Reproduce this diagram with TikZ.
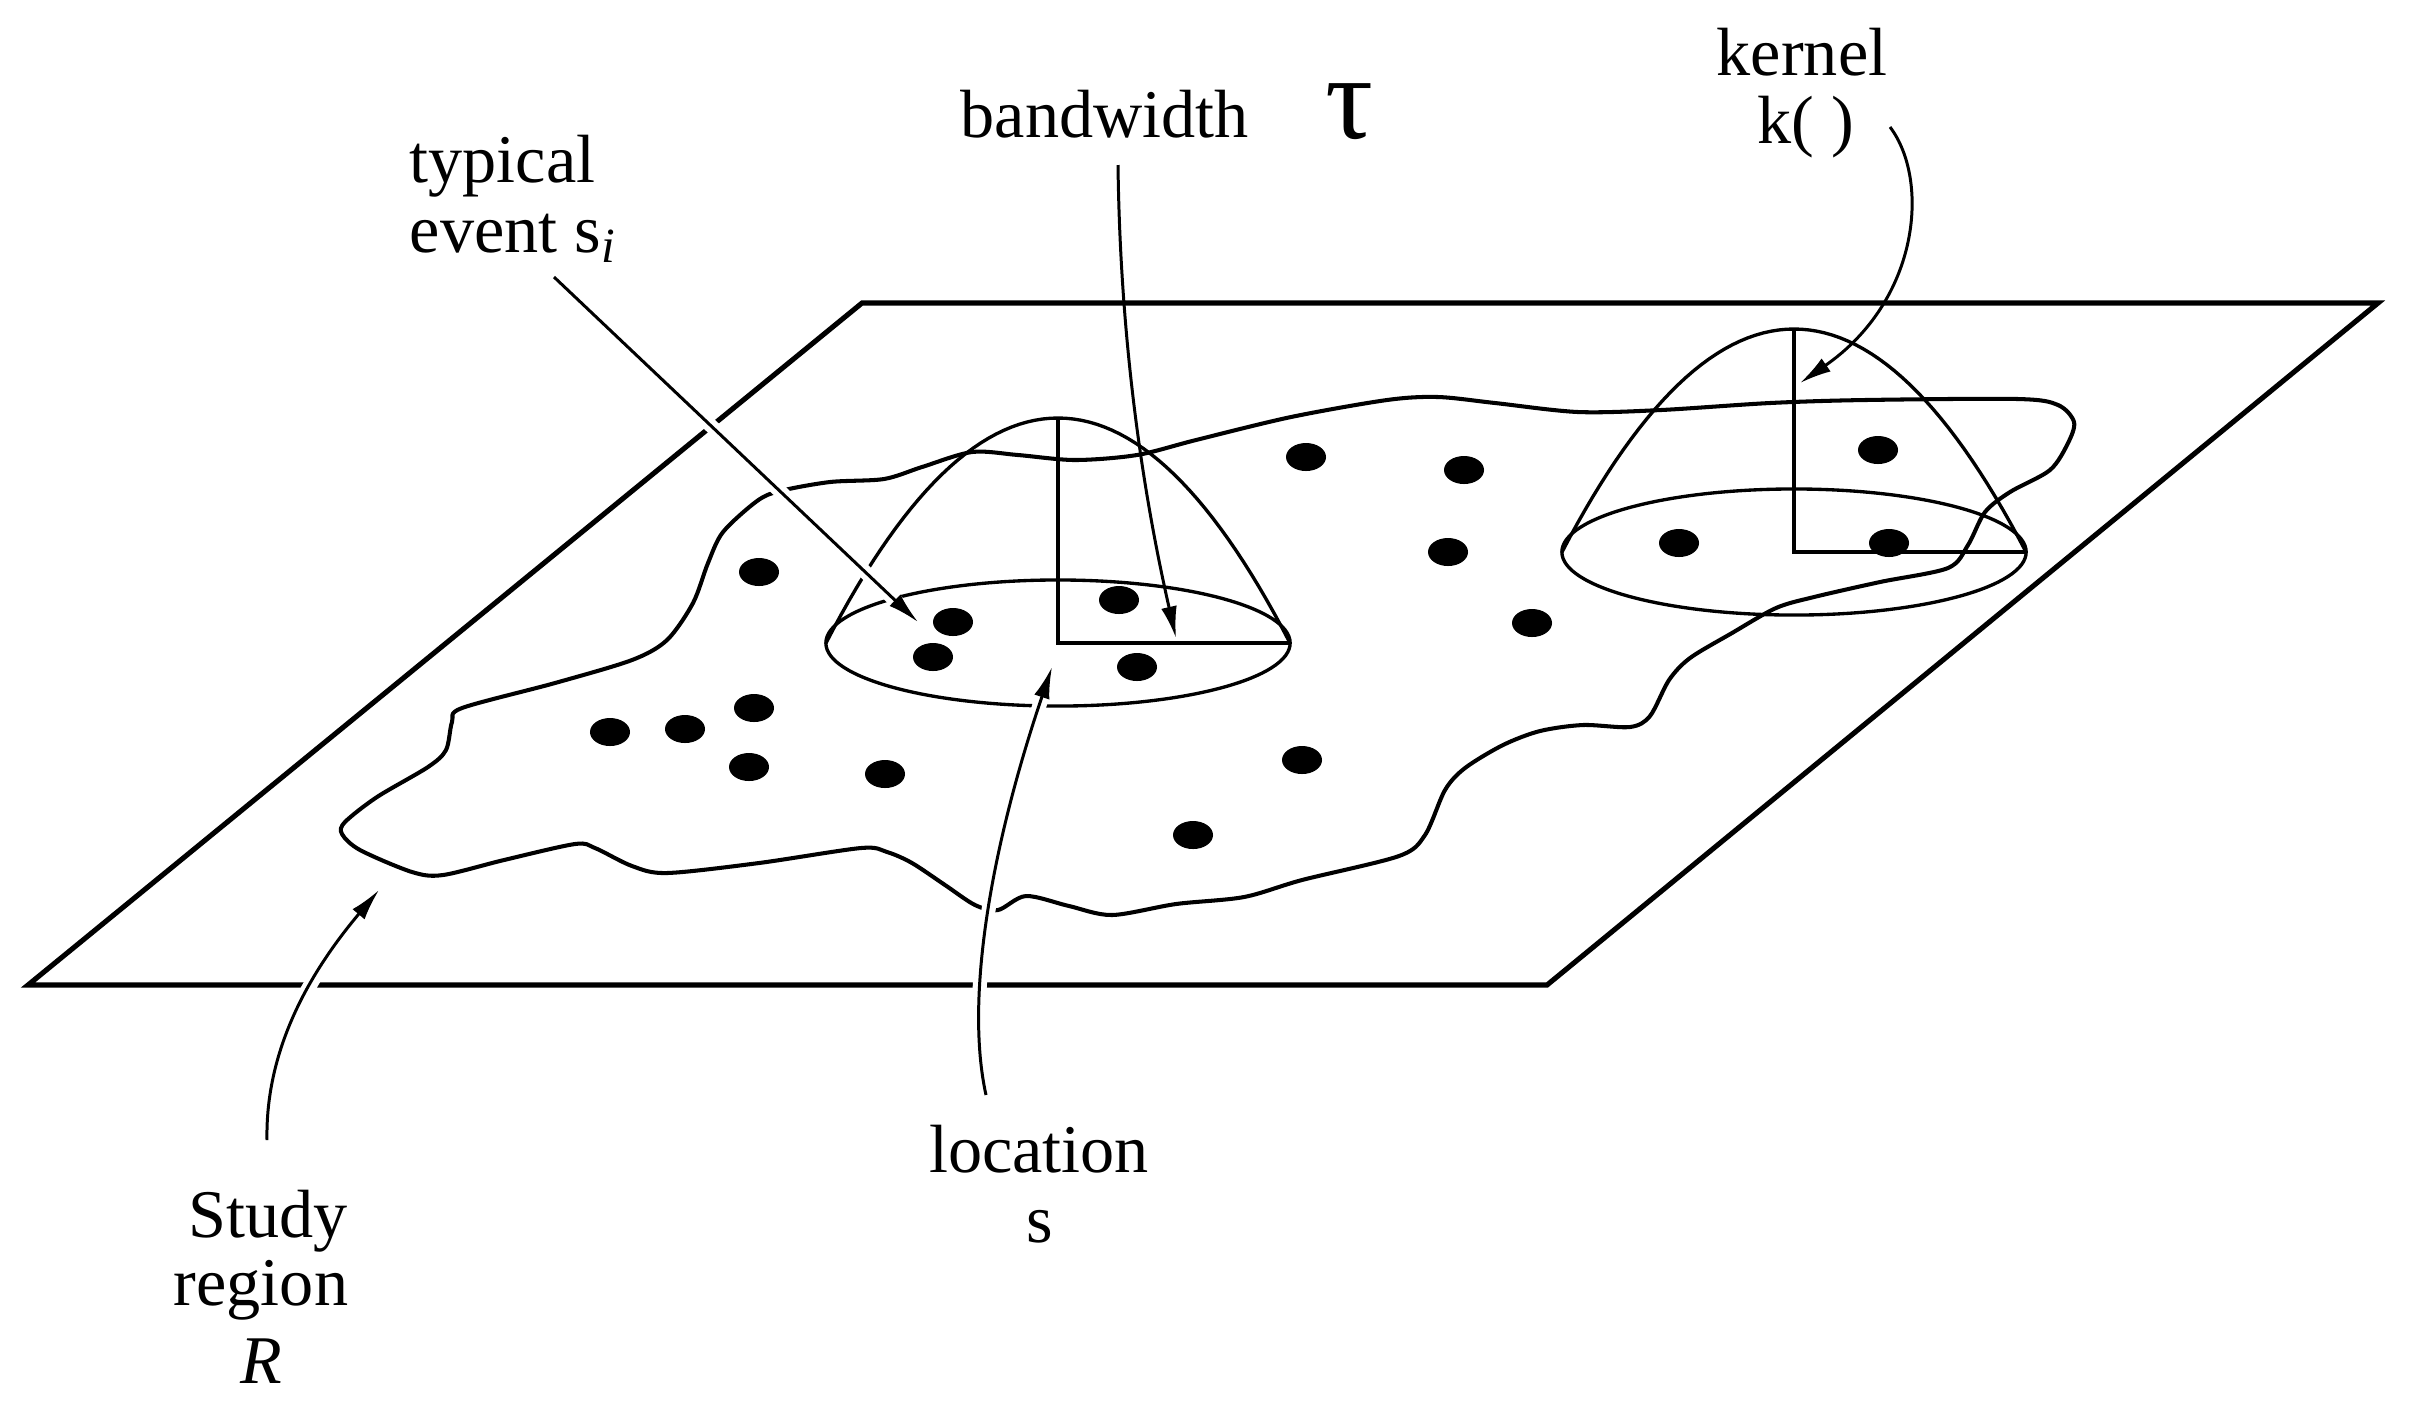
\documentclass[tikz,border=0pt]{standalone}
\usepackage{fontspec}
\setmainfont{Liberation Serif}
\usetikzlibrary{arrows.meta}
\begin{document}
\begin{tikzpicture}[x=0.01cm, y=-0.01cm,
  plane/.style={line width=1.45pt, line join=miter},
  outline/.style={line width=1.15pt, line join=round},
  conel/.style={line width=0.95pt},
  axisl/.style={line width=1.05pt},
  arr/.style={line width=0.85pt, -{Latex[length=9pt,width=4.5pt]}},
  cased/.style={preaction={draw=white, line width=4pt, -}},
  lbl/.style={font=\fontsize{19.4pt}{23pt}\selectfont, inner sep=0pt, anchor=base}]

\useasboundingbox (0,0) rectangle (2413,1420);
\fill[white] (0,0) rectangle (2413,1420);

% plane
\draw[plane] (862,303) -- (2378,303) -- (1547,985) -- (28,985) -- cycle;

% study region outline
\draw[outline] plot[smooth cycle, tension=0.5] coordinates {
(780,491) (830,482) (884,479) (922,467) (972,452) (1018,455) (1075,460) (1137,455)
(1196,440) (1291,417) (1387,400) (1438,397) (1495,403) (1578,412) (1661,410) (1770,403)
(1865,400) (2018,399) (2058,405) (2074,422) (2068,443) (2050,470) (2010,492) (1985,512)
(1968,545) (1948,568) (1880,582) (1814,597) (1776,608) (1732,633) (1690,658) (1669,680)
(1650,716) (1630,727) (1583,725) (1540,731) (1503,745) (1465,768) (1445,790) (1425,835)
(1399,856) (1302,880) (1244,897) (1176,904) (1112,915) (1069,906) (1026,896) (998,910)
(975,905) (945,885) (912,863) (887,852) (861,848) (759,863) (667,873) (632,866)
(595,848) (575,844) (504,860) (443,875) (412,872) (360,850) (342,834) (345,822)
(377,797) (428,767) (446,750) (452,722) (462,708) (555,683) (632,660) (667,640)
(693,603) (708,563) (723,532) (757,501)};

% left kernel
\draw[conel] (1058,643) ellipse [x radius=2.32cm, y radius=0.63cm];
\draw[conel] plot[domain=-232:232, samples=61] ({1058+\x}, {418+225*(\x/232)*(\x/232)});
\draw[axisl] (1058,418) -- (1058,643) -- (1290,643);

% right kernel
\draw[conel] (1794,552) ellipse [x radius=2.32cm, y radius=0.63cm];
\draw[conel] plot[domain=-232:232, samples=61] ({1794+\x}, {329+223*(\x/232)*(\x/232)});
\draw[axisl] (1794,329) -- (1794,552) -- (2026,552);

% events
\foreach \px/\py in {759/572, 953/622, 933/657, 1119/600, 1137/667, 610/732, 685/729,
  754/708, 749/767, 885/774, 1306/457, 1464/470, 1448/552, 1532/623, 1302/760,
  1193/835, 1679/543, 1878/450, 1889/543}
  \fill (\px,\py) ellipse [x radius=0.2cm, y radius=0.14cm];

% labels
\node[lbl, anchor=base west] (typ1) at (409,182) {typical};
\node[lbl, anchor=base west] (typ2) at (409,252) {event s\raisebox{-0.35ex}{\fontsize{14pt}{14pt}\selectfont\itshape i}};
\node[lbl, anchor=base west] (bw) at (960,137) {bandwidth};
\node[lbl, font=\fontsize{34pt}{34pt}\selectfont] (tau) at (1350,138) {τ};
\node[lbl] (kern) at (1802,75) {kernel};
\node[lbl] (kfn) at (1806,143) {k( )};
\node[lbl] (st1) at (268,1237) {Study};
\node[lbl] (st2) at (261,1305) {region};
\node[lbl] (st3) at (261,1383) {\itshape R};
\node[lbl] (loc1) at (1039,1172) {location};
\node[lbl] (loc2) at (1040,1242) {s};

% arrow end points
\coordinate (evS) at (554,277);   \coordinate (evT) at (918,622);
\coordinate (bwS) at (1118,165);  \coordinate (bwT) at (1176,638);
\coordinate (kS) at (1890,127);   \coordinate (kT) at (1800,383);
\coordinate (locS) at (986,1095); \coordinate (locT) at (1052,667);
\coordinate (stS) at (267,1140);  \coordinate (stT) at (379,890);

% arrows
\draw[arr, cased] (evS) -- (evT);
\draw[arr] (bwS) .. controls (1120,330) and (1140,480) .. (bwT);
\draw[arr] (kS) .. controls (1930,180) and (1920,300) .. (kT);
\draw[arr, cased] (locS) .. controls (965,1000) and (990,850) .. (locT);
\draw[arr, cased] (stS) .. controls (265,1040) and (320,960) .. (stT);
\end{tikzpicture}
\end{document}
